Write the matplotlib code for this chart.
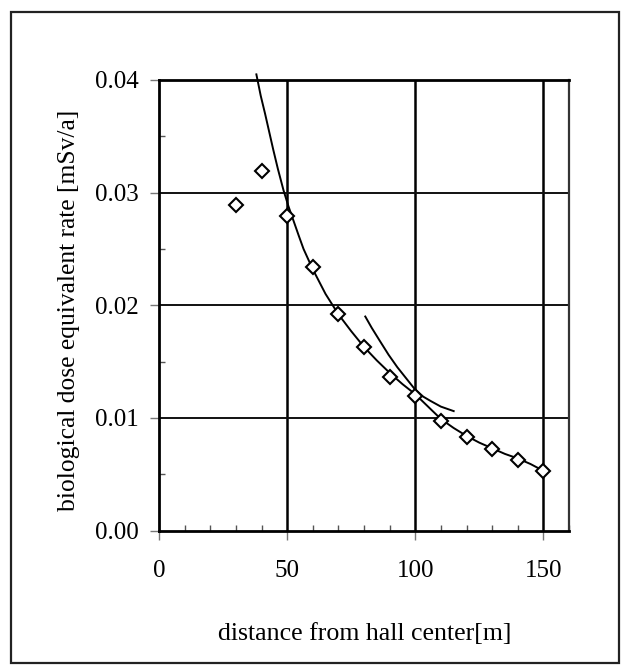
import matplotlib
matplotlib.use("Agg")
import matplotlib.pyplot as plt
from matplotlib.patches import Rectangle
from matplotlib.ticker import MultipleLocator, FormatStrFormatter

# measured data points
dist = [30, 40, 50, 60, 70, 80, 90, 100, 110, 120, 130, 140, 150]
dose = [0.0289, 0.0319, 0.0279, 0.0234, 0.0192, 0.0163, 0.0136, 0.0119,
        0.0097, 0.0083, 0.0072, 0.0063, 0.0053]

# fitted curve 1
fit1_x = [38.0, 39.7, 41.4, 43.0, 44.6, 46.4, 48.6, 50.5, 52.5, 54.5, 56.4,
          60, 65, 70, 75, 80, 85, 90, 95, 100, 105, 110, 115, 120, 125, 130,
          135, 140, 145, 150]
fit1_y = [0.0405, 0.0386, 0.0370, 0.0354, 0.0338, 0.0321, 0.0302, 0.0288,
          0.0275, 0.0262, 0.0250, 0.0232, 0.0210, 0.0192, 0.0177, 0.0163,
          0.0151, 0.0140, 0.0130, 0.0121, 0.0110, 0.0099, 0.0091, 0.0084,
          0.0078, 0.0073, 0.0068, 0.0064, 0.0059, 0.0053]

# fitted curve 2
fit2_x = [80.5, 83, 86, 89.6, 93, 96.5, 100, 103, 106, 110, 115]
fit2_y = [0.0190, 0.0180, 0.0169, 0.0156, 0.0145, 0.0135, 0.0125, 0.0119,
          0.0115, 0.0110, 0.0106]

xticks = [0, 50, 100, 150]
yticks = [0.00, 0.01, 0.02, 0.03, 0.04]

W, H = 625, 668
fig = plt.figure(figsize=(W / 100, H / 100), dpi=100)
fig.patch.set_facecolor("white")
fig.patches.append(Rectangle((11 / W, 1 - 663 / H), 608 / W, 651 / H,
                             transform=fig.transFigure, fill=False,
                             edgecolor="#222222", linewidth=1.6))

L, R, T, B = 159, 569, 80, 530.5
ax = fig.add_axes([L / W, 1 - B / H, (R - L) / W, (B - T) / H])

ax.set_xlim(0, 160)
ax.set_ylim(0, 0.04)
ax.set_xticks(xticks)
ax.set_yticks(yticks)
ax.yaxis.set_major_formatter(FormatStrFormatter("%.2f"))
ax.xaxis.set_minor_locator(MultipleLocator(10))
ax.yaxis.set_minor_locator(MultipleLocator(0.005))

for x in xticks[1:]:
    ax.axvline(x, color="black", linewidth=1.8, zorder=1)
for y in yticks[1:4]:
    ax.axhline(y, color="#111111", linewidth=1.4, zorder=1)

ax.plot(fit1_x, fit1_y, color="black", linewidth=1.4, zorder=2, clip_on=False)
ax.plot(fit2_x, fit2_y, color="black", linewidth=1.4, zorder=2)
ax.plot(dist, dose, linestyle="none", marker="D", markersize=6.8,
        markerfacecolor="white", markeredgecolor="black",
        markeredgewidth=1.5, zorder=3)

for s in ["left", "bottom", "top"]:
    ax.spines[s].set_color("black")
    ax.spines[s].set_linewidth(2.0)
ax.spines["right"].set_color("#333333")
ax.spines["right"].set_linewidth(1.6)

font = "Liberation Serif"
ax.tick_params(axis="both", which="major", direction="out", length=6.5,
               width=1.0, color="#777777")
ax.tick_params(axis="x", which="major", pad=15)
ax.tick_params(axis="y", which="major", pad=8)
ax.tick_params(axis="both", which="minor", direction="in", length=4.5,
               width=1.0, color="#555555")
for lab in ax.get_xticklabels() + ax.get_yticklabels():
    lab.set_fontfamily(font)
    lab.set_fontsize(18)

fig.text(365 / W, 1 - 634 / H, "distance from hall center[m]",
         ha="center", va="center", fontsize=18.6, fontfamily=font)
fig.text(69 / W, 1 - 310 / H, "biological dose equivalent rate [mSv/a]",
         ha="center", va="center", rotation=90, fontsize=18.4, fontfamily=font)

fig.savefig("out.png", dpi=100)
